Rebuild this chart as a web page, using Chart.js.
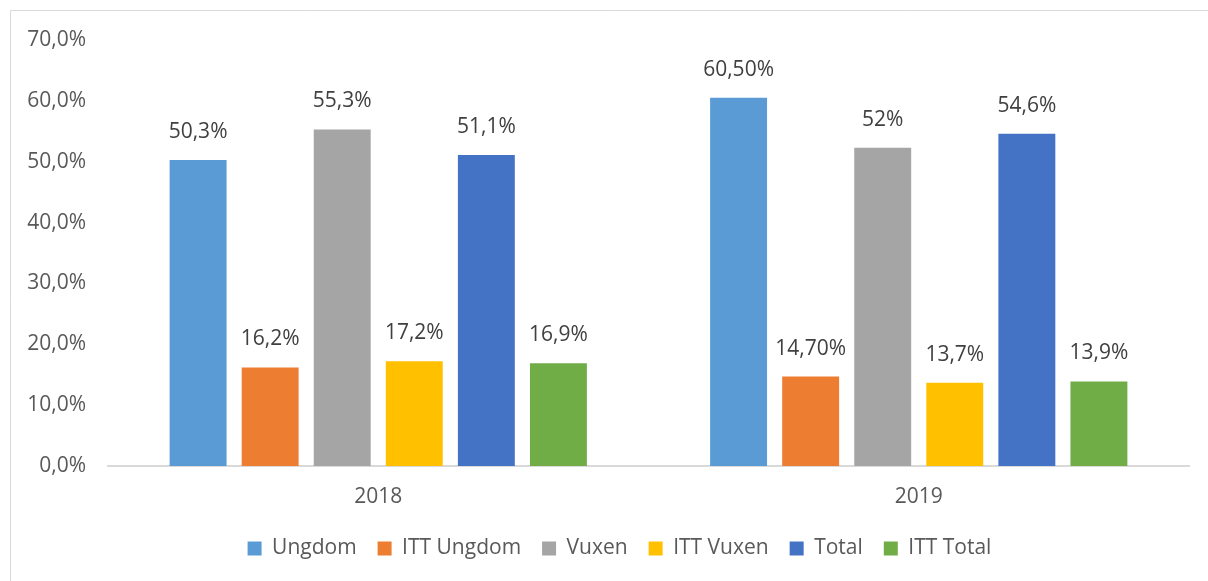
<!DOCTYPE html>
<html>
<head>
<meta charset="utf-8">
<script src="https://cdn.jsdelivr.net/npm/chart.js@4"></script>
<style>
	html, body { margin: 0; padding: 0; background: #fff; }
	#wrap { width: 1208px; height: 581px; position: relative; }
</style>
</head>
<body>
<div id="wrap"><canvas id="chart-bar"></canvas></div>
<script>
// Chart data
const YEARS = ["2018", "2019"];
const SERIES = ["Ungdom", "ITT Ungdom", "Vuxen", "ITT Vuxen", "Total", "ITT Total"];
const UNGDOM = [50.3, 60.5];
const ITT_UNGDOM = [16.2, 14.7];
const VUXEN = [55.3, 52.3];
const ITT_VUXEN = [17.2, 13.7];
const TOTAL = [51.1, 54.6];
const ITT_TOTAL = [16.9, 13.9];
const LABELS_UNGDOM = ["50,3%", "60,50%"];
const LABELS_ITT_UNGDOM = ["16,2%", "14,70%"];
const LABELS_VUXEN = ["55,3%", "52%"];
const LABELS_ITT_VUXEN = ["17,2%", "13,7%"];
const LABELS_TOTAL = ["51,1%", "54,6%"];
const LABELS_ITT_TOTAL = ["16,9%", "13,9%"];
const Y_TICKS = [0, 10, 20, 30, 40, 50, 60, 70];

const COLORS = ["#5B9BD5", "#ED7D31", "#A5A5A5", "#FFC000", "#4472C4", "#70AD47"];
const FONT = "'Open Sans', sans-serif";

const VALUES = [UNGDOM, ITT_UNGDOM, VUXEN, ITT_VUXEN, TOTAL, ITT_TOTAL];
const POINT_LABELS = [LABELS_UNGDOM, LABELS_ITT_UNGDOM, LABELS_VUXEN, LABELS_ITT_VUXEN, LABELS_TOTAL, LABELS_ITT_TOTAL];

// Frame around the chart area
const framePlugin = {
	id: "frame",
	beforeDraw(chart) {
		const ctx = chart.ctx;
		ctx.save();
		ctx.fillStyle = "#fff";
		ctx.fillRect(0, 0, chart.width, chart.height);
		ctx.strokeStyle = "#d9d9d9";
		ctx.lineWidth = 1;
		ctx.beginPath();
		ctx.moveTo(10.5, chart.height + 5);
		ctx.lineTo(10.5, 10.5);
		ctx.lineTo(chart.width + 5, 10.5);
		ctx.stroke();
		ctx.restore();
	},
};

// Legend sits a little right of centre, as in the original
const legendShift = {
	id: "legendShift",
	afterLayout(chart) {
		if (chart.legend) {
			chart.legend.left += 20;
			chart.legend.right += 20;
		}
	},
};

// Value labels above bars
const valueLabels = {
	id: "valueLabels",
	afterDatasetsDraw(chart) {
		const ctx = chart.ctx;
		ctx.save();
		ctx.font = "21px " + FONT;
		ctx.fillStyle = "#404040";
		ctx.textAlign = "center";
		ctx.textBaseline = "middle";
		chart.data.datasets.forEach((ds, i) => {
			chart.getDatasetMeta(i).data.forEach((bar, j) => {
				ctx.fillText(POINT_LABELS[i][j], bar.x, bar.y - 28);
			});
		});
		ctx.restore();
	},
};

const DATA = {
	labels: YEARS,
	datasets: SERIES.map((name, i) => ({
		label: name,
		data: VALUES[i],
		backgroundColor: COLORS[i],
		borderWidth: 0,
		categoryPercentage: 0.8,
		barPercentage: 0.79,
	})),
};

const CONFIG = {
	type: "bar",
	data: DATA,
	plugins: [framePlugin, legendShift, valueLabels],
	options: {
		animation: false,
		responsive: true,
		maintainAspectRatio: false,
		layout: {
			padding: { left: 10, right: 19, top: 40, bottom: 12 },
		},
		plugins: {
			legend: {
				position: "bottom",
				labels: {
					color: "#595959",
					font: { family: FONT, size: 21 },
					boxWidth: 14,
					boxHeight: 14,
					padding: 21,
				},
			},
			tooltip: { enabled: false },
			title: { display: false },
		},
		scales: {
			x: {
				afterFit(s) { s.height = 51; },
				border: { display: true, color: "#d9d9d9", width: 2 },
				grid: { display: false, drawTicks: false },
				ticks: {
					color: "#595959",
					font: { family: FONT, size: 21 },
					padding: 18,
				},
			},
			y: {
				min: 0,
				max: 70,
				afterFit(s) { s.width = 98; },
				afterBuildTicks(s) { s.ticks = Y_TICKS.map((v) => ({ value: v })); },
				border: { display: false },
				grid: { display: false, drawTicks: false },
				ticks: {
					color: "#595959",
					font: { family: FONT, size: 21 },
					padding: 22,
					callback: (v) => v.toFixed(1).replace(".", ",") + "%",
				},
			},
		},
	},
};

// Init chart
const WRAPPER = document.getElementById("chart-bar");
if (WRAPPER) {
	new Chart(WRAPPER, CONFIG);
}
</script>
</body>
</html>
